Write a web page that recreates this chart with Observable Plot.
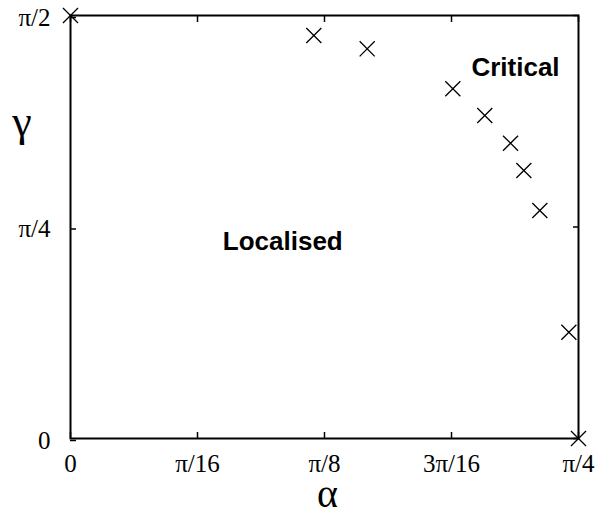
<!DOCTYPE html>
<html>
<head>
<meta charset="utf-8">
<script src="https://cdn.jsdelivr.net/npm/d3@7"></script>
<script src="https://cdn.jsdelivr.net/npm/@observablehq/plot@0.6"></script>
<style>
  html, body { margin: 0; padding: 0; background: white; }
</style>
</head>
<body>
<div id="chart"></div>
<script>
// Data (radians)
const alpha = [0, 0.3762, 0.4587, 0.5911, 0.6405, 0.6803, 0.7009, 0.7256, 0.7705, Math.PI / 4];
const gamma = [Math.PI / 2, 1.4965, 1.4471, 1.2986, 1.1995, 1.0966, 0.9952, 0.8467, 0.3947, 0];

const xTicks = [0, Math.PI / 16, Math.PI / 8, 3 * Math.PI / 16, Math.PI / 4];
const xTickLabels = ["0", "π/16", "π/8", "3π/16", "π/4"];
const yTicks = [0, Math.PI / 4, Math.PI / 2];
const yTickLabels = ["0", "π/4", "π/2"];

const regionLabels = ["Critical", "Localised"];
const regionX = [0.688, 0.3282];
const regionY = [1.378, 0.7297];

const points = alpha.map((a, i) => ({a, g: gamma[i]}));
const regions = regionLabels.map((t, i) => ({t, x: regionX[i], y: regionY[i]}));

const xFmt = d => xTickLabels[xTicks.indexOf(d)];
const yFmt = d => yTickLabels[yTicks.indexOf(d)];
const blank = () => "";

const chart = Plot.plot({
  width: 599,
  height: 511,
  marginLeft: 70,
  marginRight: 21,
  marginTop: 15,
  marginBottom: 73,
  x: {domain: [0, Math.PI / 4]},
  y: {domain: [0, Math.PI / 2]},
  style: {fontFamily: "'Liberation Serif', 'Times New Roman', serif", fontSize: "25px", background: "white", color: "black"},
  marks: [
    Plot.axisX(xTicks, {anchor: "bottom", tickSize: -6, tickPadding: 22, tickFormat: xFmt, strokeWidth: 1.5, label: null}),
    Plot.axisX(xTicks, {anchor: "top", tickSize: -6, tickFormat: blank, strokeWidth: 1.5, label: null}),
    Plot.axisY(yTicks, {anchor: "left", tickSize: -6, tickPadding: 26, tickFormat: yFmt, dy: 2, strokeWidth: 1.5, label: null}),
    Plot.axisY(yTicks, {anchor: "right", tickSize: -6, tickFormat: blank, strokeWidth: 1.5, label: null}),
    Plot.frame({stroke: "black", strokeWidth: 2}),
    Plot.dot(points, {x: "a", y: "g", symbol: "times", r: 6.9, stroke: "black", strokeWidth: 1.3}),
    Plot.text(regions, {x: "x", y: "y", text: "t", fontFamily: "'Liberation Sans', Arial, sans-serif", fontWeight: "bold", fontSize: 26, fill: "black"}),
    Plot.text(["α"], {frameAnchor: "bottom", textAnchor: "middle", lineAnchor: "middle", dx: 3, dy: 56, fontSize: 40, fill: "black"}),
    Plot.text(["γ"], {frameAnchor: "top-left", textAnchor: "middle", lineAnchor: "middle", dx: -48.5, dy: 106, fontSize: 44, fill: "black"})
  ]
});

document.getElementById("chart").appendChild(chart);
</script>
</body>
</html>
